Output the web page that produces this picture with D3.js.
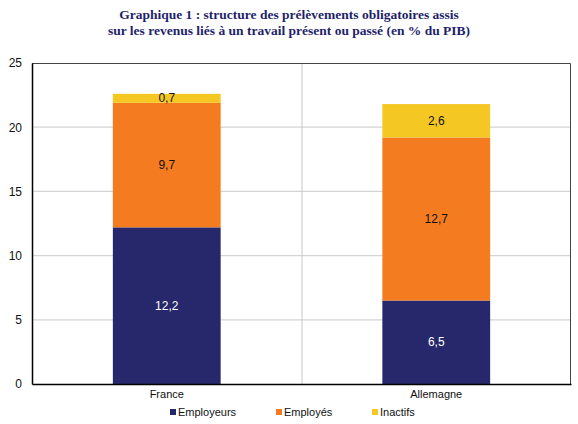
<!DOCTYPE html>
<html>
<head>
<meta charset="utf-8">
<script src="https://cdn.jsdelivr.net/npm/d3@7"></script>
<style>
  body { margin: 0; background: #fff; }
  svg { display: block; }
</style>
</head>
<body>
<svg id="chart" width="578" height="424"></svg>
<script>
const categories = ["France", "Allemagne"];
const seriesNames = ["Employeurs", "Employés", "Inactifs"];
const employeurs = [12.2, 6.5];
const employes = [9.7, 12.7];
const inactifs = [0.7, 2.6];
const yTicks = [0, 5, 10, 15, 20, 25];
const titleLines = [
  "Graphique 1 : structure des prélèvements obligatoires assis",
  "sur les revenus liés à un travail présent ou passé (en % du PIB)"
];

const colors = ["#27286b", "#f47b20", "#f5c723"];
const labelColors = ["#fff", "#111", "#111"];

const svg = d3.select("#chart");
const margin = { top: 63, right: 7, bottom: 40, left: 32 };
const width = 578 - margin.left - margin.right;
const height = 424 - margin.top - margin.bottom;

// title
svg.append("g")
  .selectAll("text")
  .data(titleLines)
  .enter()
  .append("text")
  .attr("x", 289)
  .attr("y", (d, i) => 19 + i * 16)
  .attr("text-anchor", "middle")
  .attr("font-family", "Liberation Serif, Times New Roman, serif")
  .attr("font-weight", "bold")
  .attr("font-size", 13.5)
  .attr("fill", "#1f1f6b")
  .text(d => d);

const table = categories.map((c, i) => ({
  cat: c,
  Employeurs: employeurs[i],
  "Employés": employes[i],
  Inactifs: inactifs[i]
}));
const stacked = d3.stack().keys(seriesNames)(table);

const x = d3.scaleBand().domain(categories).range([0, width]);
const y = d3.scaleLinear().domain([0, 25]).range([height, 0]);
const barW = x.bandwidth() * 0.4;

const g = svg.append("g")
  .attr("transform", "translate(" + margin.left + "," + margin.top + ")");

// gridlines
g.append("g")
  .selectAll("line")
  .data(yTicks.filter(t => t > 0 && t < 25))
  .enter()
  .append("line")
  .attr("x1", 0)
  .attr("x2", width)
  .attr("y1", d => y(d))
  .attr("y2", d => y(d))
  .attr("stroke", "#d4d4d4")
  .attr("stroke-width", 1.2);

// category separator
g.append("line")
  .attr("x1", x(categories[1]) + 0.5)
  .attr("x2", x(categories[1]) + 0.5)
  .attr("y1", 0)
  .attr("y2", height)
  .attr("stroke", "#c8c8c8");

// bars
const layers = g.selectAll(".layer")
  .data(stacked)
  .enter()
  .append("g")
  .attr("fill", (d, i) => colors[i]);

layers.selectAll("rect")
  .data(d => d)
  .enter()
  .append("rect")
  .attr("x", d => x(d.data.cat) + (x.bandwidth() - barW) / 2)
  .attr("y", d => y(d[1]))
  .attr("width", barW)
  .attr("height", d => y(d[0]) - y(d[1]));

// value labels
stacked.forEach((layer, i) => {
  g.append("g")
    .selectAll("text")
    .data(layer)
    .enter()
    .append("text")
    .attr("x", d => x(d.data.cat) + x.bandwidth() / 2)
    .attr("y", d => (y(d[0]) + y(d[1])) / 2 + 4)
    .attr("text-anchor", "middle")
    .attr("font-family", "Liberation Sans, Arial, sans-serif")
    .attr("font-size", 12)
    .attr("fill", labelColors[i])
    .text(d => String(d[1] - d[0] >= 0 ? (d.data[layer.key]) : "").replace(".", ","));
});

// frame (top and right)
g.append("path")
  .attr("d", "M0,0.5H" + (width - 0.5) + "V" + height)
  .attr("fill", "none")
  .attr("stroke", "#444")
  .attr("stroke-width", 1);

// axes
const yAxis = g.append("g")
  .call(d3.axisLeft(y).tickValues(yTicks).tickSize(0).tickPadding(10));
yAxis.select(".domain").attr("stroke", "#000").attr("stroke-width", 1.5);
yAxis.selectAll("text")
  .attr("font-family", "Liberation Sans, Arial, sans-serif")
  .attr("font-size", 12)
  .attr("fill", "#111");

const xAxis = g.append("g")
  .attr("transform", "translate(0," + height + ")")
  .call(d3.axisBottom(x).tickSize(0).tickPadding(6));
xAxis.select(".domain").attr("stroke", "#000").attr("stroke-width", 1.5);
xAxis.selectAll("text")
  .attr("font-family", "Liberation Sans, Arial, sans-serif")
  .attr("font-size", 11)
  .attr("fill", "#111");

// legend
const legendX = [170, 276, 372];
const legend = svg.append("g")
  .selectAll("g")
  .data(seriesNames)
  .enter()
  .append("g")
  .attr("transform", (d, i) => "translate(" + legendX[i] + ",409)");
legend.append("rect")
  .attr("width", 6)
  .attr("height", 6)
  .attr("y", 0)
  .attr("fill", (d, i) => colors[i]);
legend.append("text")
  .attr("x", 8)
  .attr("y", 7)
  .attr("font-family", "Liberation Sans, Arial, sans-serif")
  .attr("font-size", 11)
  .attr("fill", "#111")
  .text(d => d);
</script>
</body>
</html>
